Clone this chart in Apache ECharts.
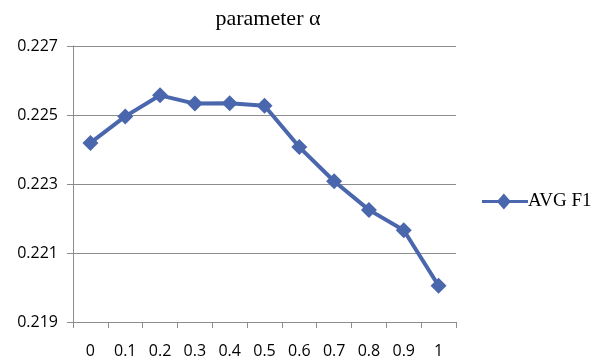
<!DOCTYPE html>
<html>
<head>
<meta charset="utf-8">
<script src="https://cdn.jsdelivr.net/npm/echarts@6/dist/echarts.min.js"></script>
<style>html,body{margin:0;padding:0;background:#fff;}#c{width:597px;height:359px;}</style>
</head>
<body>
<div id="c"></div>
<script>
const titleText = 'parameter α';
const seriesName = 'AVG F1';
const categories = ['0','0.1','0.2','0.3','0.4','0.5','0.6','0.7','0.8','0.9','1'];
const avgF1 = [0.22419, 0.22496, 0.22557, 0.22533, 0.22534, 0.22527, 0.22407, 0.22308, 0.22225, 0.22166, 0.22005];
const yMin = 0.219, yMax = 0.227, yStep = 0.002;

const chart = echarts.init(document.getElementById('c'), null, {renderer: 'canvas'});
const lineColor = '#4A66AD';
const axisGray = '#8c8c8c';
chart.setOption({
  animation: false,
  backgroundColor: '#fff',
  title: {
    text: titleText,
    left: 263, top: 3, textAlign: 'center',
    textStyle: {fontFamily: 'Liberation Serif', fontSize: 22, fontWeight: 'normal', color: '#000'}
  },
  legend: {
    data: [{name: seriesName, icon: 'path://M0,4.4 L7,4.4 L9.5,1.5 L12,4.4 L20,4.4 L20,5.6 L12,5.6 L9.5,8.5 L7,5.6 L0,5.6 Z'}],
    left: 477, top: 187, itemWidth: 46, itemHeight: 20, itemGap: 4,
    textStyle: {fontFamily: 'Liberation Serif', fontSize: 19, color: '#000', padding: [0,0,0,-5]}
  },
  grid: {left: 73, right: 141, top: 46, bottom: 36, containLabel: false},
  xAxis: {
    type: 'category', data: categories, boundaryGap: true,
    axisLine: {lineStyle: {color: axisGray, width: 1}},
    axisTick: {show: true, length: 6, alignWithLabel: false, lineStyle: {color: axisGray}},
    axisLabel: {margin: 21, fontFamily: 'Open Sans', fontSize: 16, color: '#000', interval: 0}
  },
  yAxis: {
    type: 'value', min: yMin, max: yMax, interval: yStep,
    axisLine: {show: true, lineStyle: {color: axisGray, width: 1}},
    axisTick: {show: true, length: 6, lineStyle: {color: axisGray}},
    axisLabel: {margin: 15, fontFamily: 'Open Sans', fontSize: 16, color: '#000', formatter: v => v.toFixed(3)},
    splitLine: {show: true, lineStyle: {color: axisGray, width: 1}}
  },
  series: [{
    name: seriesName, type: 'line', data: avgF1,
    symbol: 'diamond', symbolSize: 16,
    lineStyle: {color: lineColor, width: 4},
    itemStyle: {color: lineColor}
  }]
});
</script>
</body>
</html>
